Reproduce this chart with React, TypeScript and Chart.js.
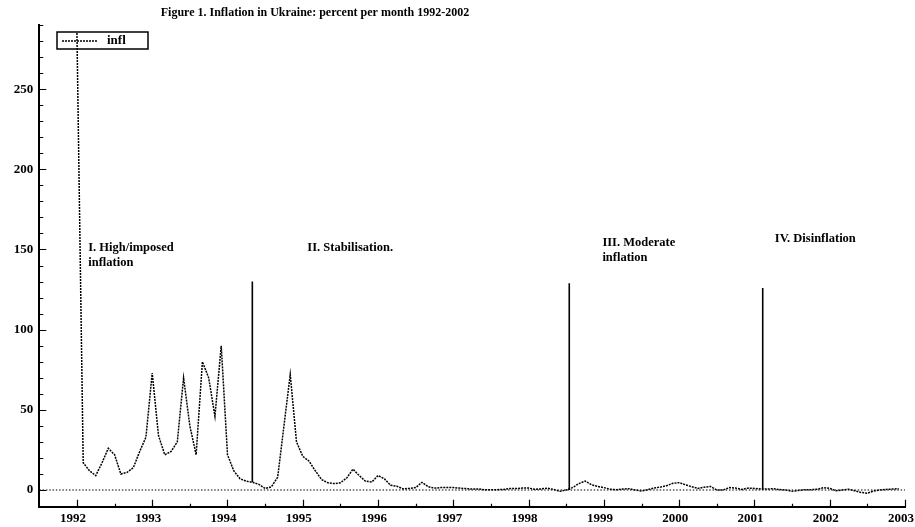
import React, { useEffect, useRef } from "react";
import { Chart, registerables } from "chart.js";

Chart.register(...registerables);

// Monthly inflation, percent per month
const START_YEAR = 1992;
const infl1992 = [285, 17, 12, 9, 17, 26, 22, 10, 11, 14, 24, 33];
const infl1993 = [73, 34, 22, 24, 30, 70, 40, 22, 80, 70, 46, 90];
const infl1994 = [22, 12, 7, 5.5, 4.8, 3.5, 1, 2, 8, 40, 72, 30];
const infl1995 = [21, 18, 12, 6.5, 4.5, 4, 4.5, 7.5, 13, 9, 5.5, 5];
const infl1996 = [9, 7, 3, 2.3, 0.7, 1, 1.5, 4.8, 2, 1.2, 1.5, 1.5];
const infl1997 = [1.5, 1.2, 0.9, 0.6, 0.7, 0.2, 0.1, 0.2, 0.4, 0.9, 0.9, 1.2];
const infl1998 = [1.2, 0.5, 0.7, 1.2, 0.3, -0.8, 0, 1.5, 4, 5.6, 3.3, 2.2];
const infl1999 = [1.5, 0.5, 0.2, 0.6, 0.8, 0, -0.6, 0.2, 1.2, 1.8, 2.7, 4.2];
const infl2000 = [4.6, 3.3, 2.0, 1.0, 1.8, 2.2, 0, 0, 1.5, 1.2, 0.4, 1.2];
const infl2001 = [1.0, 0.6, 0.6, 0.8, 0.3, 0, -0.8, -0.3, 0.2, 0.2, 0.5, 1.5];
const infl2002 = [1.0, -0.5, 0, 0.5, -0.5, -1.5, -2, -0.6, 0, 0.4, 0.6, 0.8];

const xTickYears = [1992, 1993, 1994, 1995, 1996, 1997, 1998, 1999, 2000, 2001, 2002, 2003];
const yTickValues = [0, 50, 100, 150, 200, 250];

// Phase separators (year position, bottom and top value)
const separatorYears = [1994.33, 1998.54, 2001.11];
const separatorBottoms = [5, 0, 0.5];
const separatorTops = [130, 129, 126];

// Phase annotations
const phaseTexts = [["I. High/imposed", "inflation"], ["II. Stabilisation."], ["III. Moderate", "inflation"], ["IV. Disinflation"]];
const phaseX = [1992.15, 1995.06, 1998.98, 2001.27];
const phaseY = [151, 151, 154, 156.5];

const TITLE = "Figure 1. Inflation in Ukraine: percent per month 1992-2002";
const LEGEND_LABEL = "infl";

const X_MIN = 1991.5;
const X_MAX = 2003;
const Y_MIN = -10.4;
const Y_MAX = 290;

const FONT = "'Liberation Serif', 'Times New Roman', serif";

export default function App() {
  const ref = useRef<HTMLCanvasElement | null>(null);

  useEffect(() => {
    if (!ref.current) return;
    const monthly = [
      ...infl1992, ...infl1993, ...infl1994, ...infl1995, ...infl1996, ...infl1997,
      ...infl1998, ...infl1999, ...infl2000, ...infl2001, ...infl2002,
    ];
    const points = monthly.map((v, i) => ({ x: START_YEAR + i / 12, y: v }));

    const sepDatasets = separatorYears.map((yr, i) => ({
      label: "sep" + i,
      data: [
        { x: yr, y: separatorBottoms[i] },
        { x: yr, y: separatorTops[i] },
      ],
      borderColor: "#000",
      borderWidth: 1.6,
      pointRadius: 0,
      fill: false,
    }));

    const decor = {
      id: "decor",
      beforeDatasetsDraw(chart: any) {
        const ctx = chart.ctx;
        const xs = chart.scales.x;
        const ys = chart.scales.y;
        const area = chart.chartArea;
        ctx.save();
        // legend box
        ctx.strokeStyle = "#000";
        ctx.lineWidth = 1.5;
        ctx.strokeRect(57, 32, 91, 17);
        ctx.lineWidth = 1.3;
        ctx.setLineDash([2, 1]);
        ctx.beginPath();
        ctx.moveTo(62, 41);
        ctx.lineTo(98, 41);
        ctx.stroke();
        ctx.setLineDash([]);
        ctx.fillStyle = "#000";
        ctx.font = `bold 13px ${FONT}`;
        ctx.textAlign = "left";
        ctx.textBaseline = "middle";
        ctx.fillText(LEGEND_LABEL, 107, 41);

        // y ticks (inward)
        ctx.lineWidth = 1.2;
        ctx.beginPath();
        for (let v = -10; v <= 290; v += 10) {
          const py = Math.round(ys.getPixelForValue(v)) + 0.5;
          const len = v % 50 === 0 ? 7 : 4;
          ctx.moveTo(area.left, py);
          ctx.lineTo(area.left + len, py);
        }
        // x ticks (inward)
        for (let yr = 1992; yr <= 2003; yr += 0.5) {
          const px = Math.round(xs.getPixelForValue(yr)) + 0.5;
          const len = Number.isInteger(yr) ? 7 : 3;
          ctx.moveTo(px, area.bottom);
          ctx.lineTo(px, area.bottom - len);
        }
        ctx.stroke();
        ctx.restore();
      },
      afterDraw(chart: any) {
        const ctx = chart.ctx;
        const xs = chart.scales.x;
        const ys = chart.scales.y;
        ctx.save();
        ctx.fillStyle = "#000";
        ctx.font = `bold 12px ${FONT}`;
        ctx.textAlign = "center";
        ctx.textBaseline = "middle";
        ctx.fillText(TITLE, 315, 13);
        ctx.font = `bold 12.5px ${FONT}`;
        ctx.textAlign = "left";
        phaseTexts.forEach((lines, i) => {
          const px = xs.getPixelForValue(phaseX[i]);
          const py = ys.getPixelForValue(phaseY[i]);
          lines.forEach((t, j) => ctx.fillText(t, px, py + j * 14.5));
        });
        ctx.restore();
      },
    };

    const chart = new Chart(ref.current, {
      type: "line",
      data: {
        datasets: [
          {
            label: LEGEND_LABEL,
            data: points,
            borderColor: "#000",
            borderWidth: 1.5,
            borderDash: [2, 1],
            pointRadius: 0,
            tension: 0,
            fill: false,
          },
          {
            label: "zero",
            data: [
              { x: X_MIN, y: 0 },
              { x: X_MAX, y: 0 },
            ],
            borderColor: "#000",
            borderWidth: 1.2,
            borderDash: [1.5, 1.8],
            pointRadius: 0,
            fill: false,
          },
          ...sepDatasets,
        ],
      },
      options: {
        responsive: false,
        animation: false,
        layout: { padding: { top: 25, right: 10, left: 0, bottom: 0 } },
        plugins: {
          legend: { display: false },
          title: { display: false },
          tooltip: { enabled: false },
        },
        scales: {
          x: {
            type: "linear",
            min: X_MIN,
            max: X_MAX,
            afterBuildTicks: (s: any) => {
              s.ticks = xTickYears.map((v) => ({ value: v }));
            },
            afterFit: (s: any) => {
              s.height = 20.3;
              s.paddingLeft = 0;
              s.paddingRight = 0;
            },
            ticks: {
              autoSkip: false,
              maxRotation: 0,
              labelOffset: -4,
              padding: 4,
              color: "#000",
              font: { family: FONT, size: 13, weight: "bold" },
              callback: (v: any) => String(v),
            },
            grid: { display: false, drawTicks: false },
            border: { display: true, color: "#000", width: 2 },
          },
          y: {
            type: "linear",
            min: Y_MIN,
            max: Y_MAX,
            afterBuildTicks: (s: any) => {
              s.ticks = yTickValues.map((v) => ({ value: v }));
            },
            afterFit: (s: any) => {
              s.width = 39.3;
              s.paddingTop = 0;
              s.paddingBottom = 0;
            },
            ticks: {
              padding: 6,
              color: "#000",
              font: { family: FONT, size: 13, weight: "bold" },
              callback: (v: any) => String(v),
            },
            grid: { display: false, drawTicks: false },
            border: { display: true, color: "#000", width: 2 },
          },
        },
      } as any,
      plugins: [decor],
    });
    return () => chart.destroy();
  }, []);

  return (
    <canvas
      ref={ref}
      width={915}
      height={527}
      style={{ position: "absolute", left: 0, top: 0, display: "block", background: "#fff" }}
    />
  );
}
